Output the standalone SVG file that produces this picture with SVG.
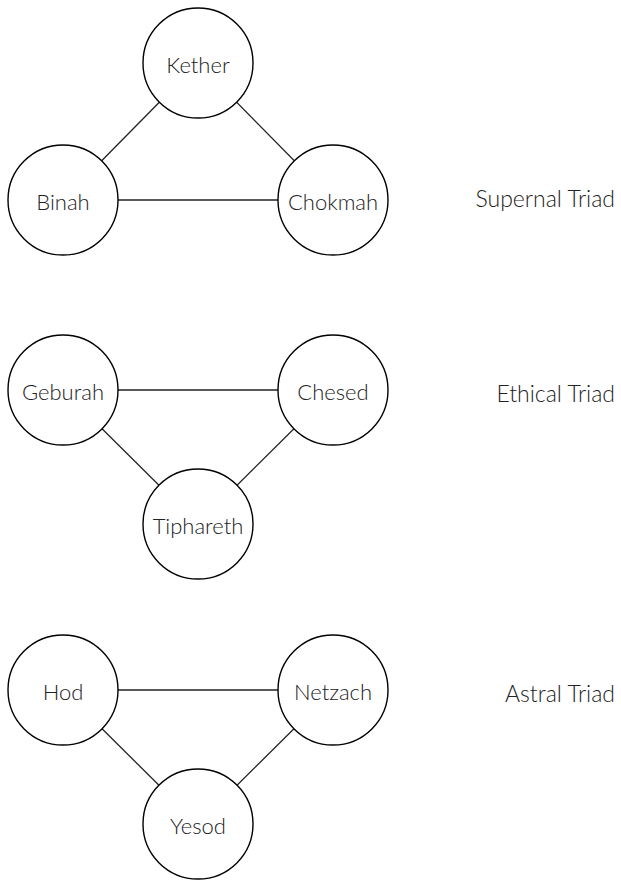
<svg xmlns="http://www.w3.org/2000/svg" width="621" height="880" viewBox="0 0 621 880">
<style>
  .node circle { fill: #fff; stroke: #000; stroke-width: 1.4; }
  .node text, .label { font-family: Lato, "Open Sans", "Liberation Sans", sans-serif; font-weight: 300; fill: #222; }
  .node text { text-anchor: middle; font-size: 22px; }
  .label { text-anchor: end; font-size: 23px; }
  #connectors line { stroke: #222; stroke-width: 1.3; }
</style>
<rect width="621" height="880" fill="#fff"/>
<g id="connectors">
  <line x1="198" y1="63" x2="63" y2="200"/>
  <line x1="198" y1="63" x2="333" y2="200"/>
  <line x1="63" y1="200" x2="333" y2="200"/>
  <line x1="63" y1="390" x2="333" y2="390"/>
  <line x1="63" y1="390" x2="198" y2="524"/>
  <line x1="333" y1="390" x2="198" y2="524"/>
  <line x1="63" y1="690" x2="333" y2="690"/>
  <line x1="63" y1="690" x2="198" y2="824"/>
  <line x1="333" y1="690" x2="198" y2="824"/>
</g>
<g id="kether" class="node"><circle cx="198" cy="63" r="55"/><text x="198" y="73">Kether</text></g>
<g id="binah" class="node"><circle cx="63" cy="200" r="55"/><text x="63" y="210">Binah</text></g>
<g id="chokmah" class="node"><circle cx="333" cy="200" r="55"/><text x="333" y="210">Chokmah</text></g>
<g id="geburah" class="node"><circle cx="63" cy="390" r="55"/><text x="63" y="400">Geburah</text></g>
<g id="chesed" class="node"><circle cx="333" cy="390" r="55"/><text x="333" y="400">Chesed</text></g>
<g id="tiphareth" class="node"><circle cx="198" cy="524" r="55"/><text x="198" y="534">Tiphareth</text></g>
<g id="hod" class="node"><circle cx="63" cy="690" r="55"/><text x="63" y="700">Hod</text></g>
<g id="netzach" class="node"><circle cx="333" cy="690" r="55"/><text x="333" y="700">Netzach</text></g>
<g id="yesod" class="node"><circle cx="198" cy="824" r="55"/><text x="198" y="834">Yesod</text></g>
<g id="labels">
  <text class="label" x="615" y="207">Supernal Triad</text>
  <text class="label" x="615" y="402">Ethical Triad</text>
  <text class="label" x="615" y="702">Astral Triad</text>
</g>
</svg>
